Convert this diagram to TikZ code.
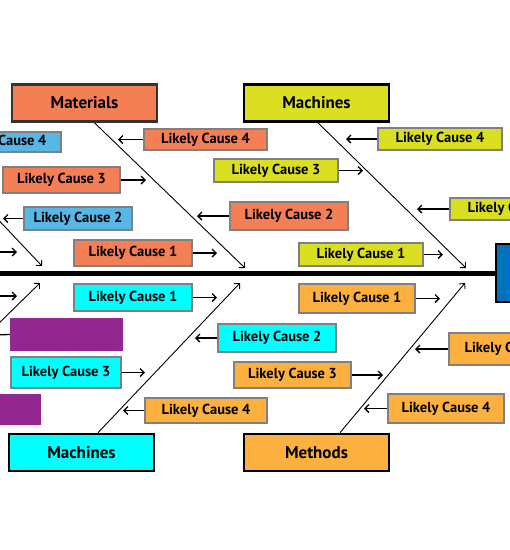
\documentclass[tikz,border=0pt]{standalone}
\usepackage{fontspec}
\setmainfont{PT Sans}
\usetikzlibrary{arrows.meta}
\definecolor{matorange}{RGB}{244,127,84}
\definecolor{macyellow}{RGB}{218,224,33}
\definecolor{cyanbox}{RGB}{0,255,255}
\definecolor{lorange}{RGB}{251,176,64}
\definecolor{lblue}{RGB}{88,183,230}
\definecolor{purplebox}{RGB}{146,39,143}
\definecolor{headblue}{RGB}{0,114,188}
\definecolor{bordergray}{RGB}{128,128,128}
\tikzset{
  catbox/.style={draw=black, line width=2.6pt, inner sep=0pt, minimum width=145pt, minimum height=37pt, font=\bfseries\fontsize{17}{17}\selectfont},
  causebox/.style={draw=bordergray, line width=2.2pt, inner sep=0pt, font=\bfseries\fontsize{14.5}{14.5}\selectfont},
  plainbox/.style={inner sep=0pt},
  arr/.style={-{Straight Barb[length=4pt,width=8pt]}, line width=1.3pt},
  bone/.style={-{Straight Barb[length=4pt,width=8pt]}, line width=0.9pt},
  spine/.style={line width=5pt}
}
\begin{document}
\begin{tikzpicture}[x=1pt,y=-1pt]
\useasboundingbox (0,0) rectangle (510,550);
\clip (0,0) rectangle (510,550);
% category boxes
\node[catbox, draw=black!80, fill=matorange] (mat) at (84.5,103) {Materials};
\node[catbox, fill=macyellow] (macT) at (316.5,103) {Machines};
\node[catbox, fill=cyanbox] (macB) at (81.5,452.5) {Machines};
\node[catbox, fill=lorange] (meth) at (316.5,452.5) {Methods};
\node[draw=black, line width=2.4pt, fill=headblue, minimum width=62pt, minimum height=58pt, inner sep=0pt] (head) at (527,273) {};
% spine
\coordinate (spS) at (-5,273);
\draw[spine] (spS) -- (head.west);
% cause boxes
\node[causebox, fill=lblue, minimum width=118pt, minimum height=20pt] (c1) at (2,142) {Likely Cause 4};
\node[causebox, fill=matorange, minimum width=117pt, minimum height=26pt] (c2) at (61.5,180) {Likely Cause 3};
\node[causebox, fill=lblue, minimum width=108pt, minimum height=23pt] (c3) at (78,218.5) {Likely Cause 2};
\node[causebox, fill=matorange, minimum width=118pt, minimum height=26pt] (c4) at (133,253) {Likely Cause 1};
\node[causebox, fill=matorange, minimum width=123pt, minimum height=21pt] (c5) at (205.5,139.5) {Likely Cause 4};
\node[causebox, fill=matorange, minimum width=118pt, minimum height=28pt] (c6) at (289,216) {Likely Cause 2};
\node[causebox, fill=macyellow, minimum width=124pt, minimum height=22pt] (c7) at (440,139) {Likely Cause 4};
\node[causebox, fill=macyellow, minimum width=124pt, minimum height=23pt] (c8) at (276,170.5) {Likely Cause 3};
\node[causebox, fill=macyellow, minimum width=124pt, minimum height=22pt] (c9) at (512,209) {Likely Cause 2};
\node[causebox, fill=macyellow, minimum width=124pt, minimum height=23pt] (c10) at (361,254.5) {Likely Cause 1};
\node[causebox, fill=cyanbox, minimum width=118pt, minimum height=27pt] (c11) at (133,297.5) {Likely Cause 1};
\node[plainbox, fill=purplebox, minimum width=113pt, minimum height=33pt] (p1) at (66.5,334.5) {};
\node[causebox, fill=cyanbox, minimum width=110pt, minimum height=31pt] (c12) at (66,372.5) {Likely Cause 3};
\node[plainbox, fill=purplebox, minimum width=113pt, minimum height=31pt] (p2) at (-15.5,409.5) {};
\node[causebox, fill=cyanbox, minimum width=118pt, minimum height=28pt] (c13) at (277,338) {Likely Cause 2};
\node[causebox, fill=lorange, minimum width=122pt, minimum height=25pt] (c14) at (206,410.5) {Likely Cause 4};
\node[causebox, fill=lorange, minimum width=117pt, minimum height=26pt] (c15) at (292.5,375) {Likely Cause 3};
\node[causebox, fill=lorange, minimum width=116pt, minimum height=29pt] (c16) at (357,298.5) {Likely Cause 1};
\node[causebox, fill=lorange, minimum width=120pt, minimum height=32pt] (c17) at (509,349) {Likely Cause 2};
\node[causebox, fill=lorange, minimum width=116pt, minimum height=29pt] (c18) at (446,408.5) {Likely Cause 4};
% arrow tips
\coordinate (t2) at (146,180);
\coordinate (t3) at (3,218.5);
\coordinate (t4) at (217,253);
\coordinate (t5) at (118,139.5);
\coordinate (t6) at (197,216);
\coordinate (t7) at (346,139);
\coordinate (t8) at (363,170.5);
\coordinate (t9) at (417,209);
\coordinate (t10) at (443,254.5);
\coordinate (t11) at (217,297.5);
\coordinate (t12) at (145,372.5);
\coordinate (t13) at (195,338);
\coordinate (t14) at (123,410.5);
\coordinate (t15) at (383,375);
\coordinate (t16) at (440,298.5);
\coordinate (t17) at (415,349);
\coordinate (t18) at (364,408.5);
\coordinate (tp1) at (-8,335);
\draw[arr] (c2.east) -- (t2);
\draw[arr] (c3.west) -- (t3);
\draw[arr] (c4.east) -- (t4);
\draw[arr] (c5.west) -- (t5);
\draw[arr] (c6.west) -- (t6);
\draw[arr] (c7.west) -- (t7);
\draw[arr] (c8.east) -- (t8);
\draw[arr] (c9.west) -- (t9);
\draw[arr] (c10.east) -- (t10);
\draw[arr] (c11.east) -- (t11);
\draw[arr] (c12.east) -- (t12);
\draw[arr] (c13.west) -- (t13);
\draw[arr] (c14.west) -- (t14);
\draw[arr] (c15.east) -- (t15);
\draw[arr] (c16.east) -- (t16);
\draw[arr] (c17.west) -- (t17);
\draw[arr] (c18.west) -- (t18);
\draw[arr] (p1.west) -- (tp1);
% left partial arrows
\coordinate (la1s) at (-5,252);
\coordinate (la1t) at (17,252);
\coordinate (la2s) at (-5,296);
\coordinate (la2t) at (17,296);
\draw[arr] (la1s) -- (la1t);
\draw[arr] (la2s) -- (la2t);
% bones
\coordinate (bMat) at (245,268);
\coordinate (bMacT) at (466,268);
\coordinate (bMacB) at (240,283);
\coordinate (bMeth) at (465,283);
\draw[bone] ([xshift=10pt]mat.south) -- (bMat);
\draw[bone] ([xshift=1.5pt]macT.south) -- (bMacT);
\draw[bone] ([xshift=16.5pt]macB.north) -- (bMacB);
\draw[bone] ([xshift=23.5pt]meth.north) -- (bMeth);
\coordinate (lb1s) at (-10,211);
\coordinate (lb1t) at (42,266);
\coordinate (lb2s) at (-5,327);
\coordinate (lb2t) at (40,283);
\draw[bone] (lb1s) -- (lb1t);
\draw[bone] (lb2s) -- (lb2t);
\end{tikzpicture}
\end{document}
